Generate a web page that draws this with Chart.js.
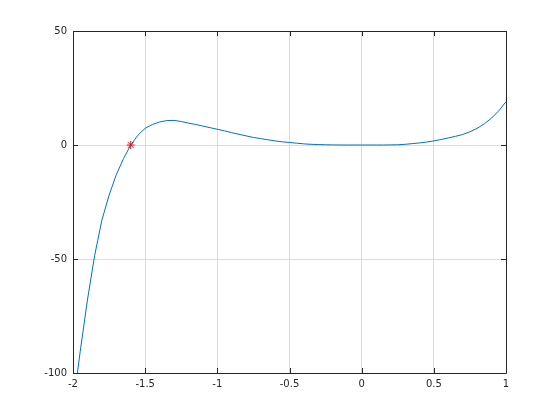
<!DOCTYPE html>
<html>
<head>
<meta charset="utf-8">
<script src="https://cdn.jsdelivr.net/npm/chart.js@4"></script>
<style>
  html, body { margin: 0; padding: 0; background: #fff; }
  #wrap { width: 560px; height: 420px; }
</style>
</head>
<body>
<div id="wrap"><canvas id="plot" width="560" height="420"></canvas></div>
<script>
// curve samples
const xs = [-2.00, -1.95, -1.90, -1.85, -1.80, -1.75, -1.70, -1.65, -1.60, -1.55,
            -1.50, -1.45, -1.40, -1.35, -1.30, -1.25, -1.20, -1.15, -1.10, -1.05,
            -1.00, -0.95, -0.90, -0.85, -0.80, -0.75, -0.70, -0.65, -0.60, -0.55,
            -0.50, -0.45, -0.40, -0.35, -0.30, -0.25, -0.20, -0.15, -0.10, -0.05,
             0.00,  0.05,  0.10,  0.15,  0.20,  0.25,  0.30,  0.35,  0.40,  0.45,
             0.50,  0.55,  0.60,  0.65,  0.70,  0.75,  0.80,  0.85,  0.90,  0.95, 1.00];
const ys = [-115, -90.5, -68, -48.5, -33, -22, -13, -6, 0, 4.3,
            7.3, 9.0, 10.1, 10.7, 10.8, 10.3, 9.6, 9.0, 8.3, 7.6,
            6.9, 6.2, 5.4, 4.7, 4.0, 3.3, 2.8, 2.3, 1.8, 1.4,
            1.1, 0.8, 0.5, 0.3, 0.2, 0.1, 0.05, 0, 0, 0,
            0, 0, 0, 0, 0.05, 0.1, 0.3, 0.6, 0.9, 1.3,
            1.8, 2.4, 3.1, 3.8, 4.6, 5.8, 7.3, 9.3, 11.8, 15, 19];

// root marker
const rootX = [-1.6];
const rootY = [0];

// axis ticks
const xTicks = [-2, -1.5, -1, -0.5, 0, 0.5, 1];
const yTicks = [-100, -50, 0, 50];

const boxPlugin = {
  id: 'box',
  afterDraw(chart) {
    const ctx = chart.ctx;
    const a = chart.chartArea;
    const sx = chart.scales.x, sy = chart.scales.y;
    ctx.save();
    ctx.strokeStyle = '#262626';
    ctx.lineWidth = 1;
    ctx.beginPath();
    ctx.rect(Math.round(a.left) + 0.5, Math.round(a.top) + 0.5,
             Math.round(a.right - a.left), Math.round(a.bottom - a.top));
    xTicks.forEach(v => {
      const p = Math.round(sx.getPixelForValue(v)) + 0.5;
      ctx.moveTo(p, a.bottom); ctx.lineTo(p, a.bottom - 5);
      ctx.moveTo(p, a.top); ctx.lineTo(p, a.top + 5);
    });
    yTicks.forEach(v => {
      const p = Math.round(sy.getPixelForValue(v)) + 0.5;
      ctx.moveTo(a.left, p); ctx.lineTo(a.left + 5, p);
      ctx.moveTo(a.right, p); ctx.lineTo(a.right - 5, p);
    });
    ctx.stroke();
    ctx.restore();
  }
};

const ctx = document.getElementById('plot').getContext('2d');
const chart = new Chart(ctx, {
  type: 'line',
  data: {
    datasets: [{
      data: xs.map((x, i) => ({ x: x, y: ys[i] })),
      borderColor: '#0072bd',
      borderWidth: 1,
      pointRadius: 0,
      tension: 0,
      fill: false
    }, {
      data: rootX.map((x, i) => ({ x: x, y: rootY[i] })),
      showLine: false,
      pointStyle: 'star',
      pointRadius: 4,
      borderColor: '#ff0000',
      backgroundColor: '#ff0000',
      borderWidth: 1
    }]
  },
  options: {
    responsive: false,
    animation: false,
    layout: { padding: { left: 0, top: 31, right: 54, bottom: 0 } },
    plugins: {
      legend: { display: false },
      tooltip: { enabled: false }
    },
    scales: {
      x: {
        type: 'linear',
        min: -2,
        max: 1,
        afterBuildTicks: s => { s.ticks = xTicks.map(v => ({ value: v })); },
        afterFit: s => { s.height = 47; },
        grid: { color: '#dcdcdc', drawTicks: false, tickLength: 0 },
        border: { display: false },
        ticks: {
          padding: 5,
          color: '#262626',
          font: { family: 'DejaVu Sans', size: 10 },
          maxRotation: 0,
          callback: v => String(v)
        }
      },
      y: {
        min: -100,
        max: 50,
        afterBuildTicks: s => { s.ticks = yTicks.map(v => ({ value: v })); },
        afterFit: s => { s.width = 73; },
        grid: { color: '#dcdcdc', drawTicks: false, tickLength: 0 },
        border: { display: false },
        ticks: {
          padding: 6,
          color: '#262626',
          font: { family: 'DejaVu Sans', size: 10 },
          callback: v => String(v)
        }
      }
    }
  },
  plugins: [boxPlugin]
});
</script>
</body>
</html>
